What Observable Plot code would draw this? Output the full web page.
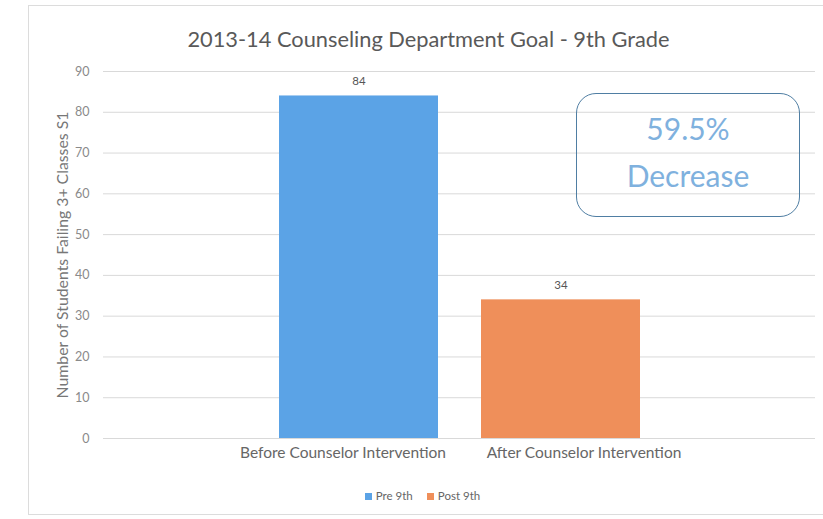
<!DOCTYPE html>
<html>
<head>
<meta charset="utf-8">
<script src="https://cdn.jsdelivr.net/npm/d3@7"></script>
<script src="https://cdn.jsdelivr.net/npm/@observablehq/plot@0.6"></script>
<style>
  html, body { margin: 0; padding: 0; background: #fff; width: 823px; height: 519px; overflow: hidden; }
  body { font-family: Lato, "Open Sans", sans-serif; position: relative; }
  #frame { position: absolute; left: 28px; top: 5px; width: 830px; height: 510px; border: 1px solid #dcdcdc; box-sizing: border-box; pointer-events: none; }
  #title { height: 62px; box-sizing: border-box; padding-top: 25px; padding-left: 34px; text-align: center; font-size: 21.8px; color: #595959; }
  #chart svg { display: block; }
  #legend { display: flex; justify-content: center; gap: 14px; padding-left: 22px; padding-top: 27px; font-size: 11.5px; color: #666; }
  #legend span.sw { display: inline-block; width: 7px; height: 7px; margin-right: 4px; vertical-align: 0px; }
  #note { position: absolute; left: 576px; top: 93px; width: 224px; height: 124px; border: 1.5px solid #4f7ea3; border-radius: 20px; box-sizing: border-box; text-align: center; color: #7fb1de; font-size: 30px; line-height: 47px; padding-top: 11px; }
</style>
</head>
<body>
<div id="frame"></div>
<div id="title">2013-14 Counseling Department Goal - 9th Grade</div>
<div id="chart"></div>
<div id="legend"></div>
<div id="note"></div>
<script>
const categories = ["Before Counselor Intervention", "After Counselor Intervention"];
const series = ["Pre 9th", "Post 9th"];
const values = [84, 34];
const colors = ["#5ba3e6", "#ef8f5a"];
const yTicks = [0, 10, 20, 30, 40, 50, 60, 70, 80, 90];
const yLabel = "Number of Students Failing 3+ Classes S1";
const note = ["59.5%", "Decrease"];

const data = categories.map((c, i) => ({category: c, series: series[i], value: values[i]}));

const plot = Plot.plot({
  width: 823,
  height: 400,
  marginLeft: 103,
  marginRight: 8,
  marginTop: 9,
  marginBottom: 24,
  style: {fontFamily: "Lato, 'Open Sans', sans-serif", color: "#777", background: "transparent"},
  x: {domain: categories, range: [235, 684], paddingInner: 0.212, paddingOuter: 0.212, label: null},
  y: {domain: [0, 90], ticks: yTicks, label: null},
  color: {domain: series, range: colors},
  marks: [
    Plot.gridY(yTicks, {stroke: "#d9d9d9", strokeOpacity: 1}),
    Plot.barY(data, {x: "category", y: "value", fill: "series"}),
    Plot.text(data, {x: "category", y: "value", text: d => String(d.value), dy: -15, fill: "#555", fontSize: 11.5}),
    Plot.axisY(yTicks, {tickSize: 0, tickPadding: 14, fontSize: 12.5, fill: "#8a8a8a", label: null}),
    Plot.text([yLabel], {frameAnchor: "left", textAnchor: "middle", rotate: -90, dx: -41, fontSize: 15.8, fill: "#777"}),
    Plot.axisX([categories[0]], {tickSize: 0, tickPadding: 8, fontSize: 15.5, fill: "#666", label: null, dx: -16}),
    Plot.axisX([categories[1]], {tickSize: 0, tickPadding: 8, fontSize: 15.5, fill: "#666", label: null, dx: 23})
  ]
});
document.getElementById("chart").appendChild(plot);

const legend = document.getElementById("legend");
series.forEach((s, i) => {
  const item = document.createElement("div");
  item.innerHTML = `<span class="sw" style="background:${colors[i]}"></span>${s}`;
  legend.appendChild(item);
});
document.getElementById("note").innerHTML = note.join("<br>");
</script>
</body>
</html>
